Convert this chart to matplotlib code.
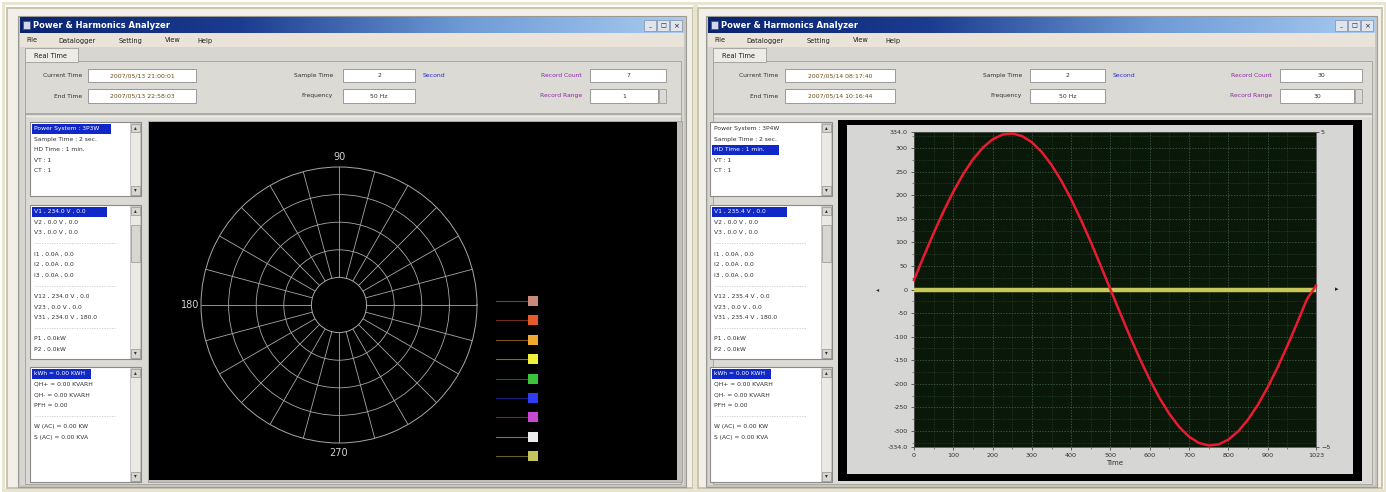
import matplotlib
matplotlib.use("Agg")
import matplotlib.pyplot as plt
import matplotlib.patches as mpatches
import numpy as np

W, H, DPI = 1386, 492, 100

# ---------------- content ----------------
window_title = "Power & Harmonics Analyzer"
menu_items = ["File", "Datalogger", "Setting", "View", "Help"]
tab_name = "Real Time"
info_labels = ["Current Time", "End Time", "Sample Time", "Frequency", "Record Count", "Record Range"]
sample_unit = "Second"

left_times = ["2007/05/13 21:00:01", "2007/05/13 22:58:03"]
right_times = ["2007/05/14 08:17:40", "2007/05/14 10:16:44"]
sample_time = "2"
frequency = "50 Hz"
left_record = ["7", "1"]
right_record = ["30", "30"]

left_system = ["Power System : 3P3W", "Sample Time : 2 sec.", "HD Time : 1 min.", "VT : 1", "CT : 1"]
right_system = ["Power System : 3P4W", "Sample Time : 2 sec.", "HD Time : 1 min.", "VT : 1", "CT : 1"]
left_system_sel, right_system_sel = 0, 2

left_readings = ["V1 , 234.0 V , 0.0", "V2 , 0.0 V , 0.0", "V3 , 0.0 V , 0.0", "-",
                 "I1 , 0.0A , 0.0", "I2 , 0.0A , 0.0", "I3 , 0.0A , 0.0", "-",
                 "V12 , 234.0 V , 0.0", "V23 , 0.0 V , 0.0", "V31 , 234.0 V , 180.0", "-",
                 "P1 , 0.0kW", "P2 , 0.0kW"]
right_readings = ["V1 , 235.4 V , 0.0", "V2 , 0.0 V , 0.0", "V3 , 0.0 V , 0.0", "-",
                  "I1 , 0.0A , 0.0", "I2 , 0.0A , 0.0", "I3 , 0.0A , 0.0", "-",
                  "V12 , 235.4 V , 0.0", "V23 , 0.0 V , 0.0", "V31 , 235.4 V , 180.0", "-",
                  "P1 , 0.0kW", "P2 , 0.0kW"]
energy_lines = ["kWh = 0.00 KWH", "QH+ = 0.00 KVARH", "QH- = 0.00 KVARH", "PFH = 0.00", "-",
                "W (AC) = 0.00 KW", "S (AC) = 0.00 KVA"]

# phasor diagram
phase_names = ["V1", "V2", "V3", "I1", "I2", "I3", "V12", "V23", "V31"]
phase_colors = ["#c98a7a", "#e45a28", "#f0a832", "#f2ee3c", "#3cc23c",
                "#2f3cf0", "#c848d2", "#ececec", "#c4c45a"]
polar_rings = [2, 3, 4]
polar_labels = {90: "90", 180: "180", 270: "270"}

# waveform (V1 samples over one cycle)
wave_time = [0, 25, 50, 75, 100, 125, 150, 175, 200, 225, 250, 275, 300, 325, 350,
             375, 400, 425, 450, 475, 500, 525, 550, 575, 600, 625, 650, 675, 700,
             725, 750, 775, 800, 825, 850, 875, 900, 925, 950, 975, 1000, 1023]
wave_volts = [20.4, 70.8, 119.6, 165.5, 207.5, 244.6, 275.9, 300.7, 318.4, 328.5,
              330.8, 325.4, 312.2, 291.6, 264.1, 230.5, 191.2, 147.5, 100.4, 50.7,
              0.0, -50.7, -100.4, -147.5, -191.2, -230.5, -264.1, -291.6, -312.2,
              -325.4, -330.8, -328.5, -318.4, -300.7, -275.9, -244.6, -207.5,
              -165.5, -119.6, -70.8, -20.4, 8.0]
current_time = [0, 1023]
current_amps = [0.0, 0.0]
y_limit = 334.0
y_ticks = [-300, -250, -200, -150, -100, -50, 0, 50, 100, 150, 200, 250, 300]
x_ticks = [0, 100, 200, 300, 400, 500, 600, 700, 800, 900, 1023]
right_scale = [-5, 5]

# ---------------- figure ----------------
fig = plt.figure(figsize=(W / DPI, H / DPI), dpi=DPI)
fig.patch.set_facecolor("#ffffff")
ui = fig.add_axes([0, 0, 1, 1])
ui.set_xlim(0, W)
ui.set_ylim(H, 0)
ui.axis("off")

FONT = "DejaVu Sans"


def box(x0, y0, x1, y1, fc, ec="none", lw=0.8, z=1):
    ui.add_patch(mpatches.Rectangle((x0, y0), x1 - x0, y1 - y0, facecolor=fc,
                                    edgecolor=ec, linewidth=lw, zorder=z))


def txt(x, y, s, size=4.6, color="#202020", ha="left", weight="normal", z=5):
    ui.text(x, y, s, fontsize=size, color=color, ha=ha, va="center",
            family=FONT, weight=weight, zorder=z)


def field(x0, y0, x1, y1, s, color="#303030"):
    box(x0, y0, x1, y1, "#ffffff", "#9a9a9a", 0.7, 3)
    txt((x0 + x1) / 2, (y0 + y1) / 2, s, 4.4, color, "center")


def scrollbar(x0, y0, x1, y1, thumb=None):
    box(x0, y0, x1, y1, "#ebe9e3", "#b8b8b8", 0.5, 3)
    box(x0 + 0.5, y0 + 0.5, x1 - 0.5, y0 + 9, "#d8d6d0", "#909090", 0.5, 4)
    box(x0 + 0.5, y1 - 9, x1 - 0.5, y1 - 0.5, "#d8d6d0", "#909090", 0.5, 4)
    txt((x0 + x1) / 2, y0 + 5, "\u25b4", 4, "#303030", "center", z=6)
    txt((x0 + x1) / 2, y1 - 5, "\u25be", 4, "#303030", "center", z=6)
    if thumb:
        box(x0 + 0.5, thumb[0], x1 - 0.5, thumb[1], "#d8d6d0", "#909090", 0.5, 4)


def listbox(x0, y0, x1, y1, lines, sel, thumb=None):
    box(x0, y0, x1, y1, "#ffffff", "#8a8a8a", 0.8, 2)
    scrollbar(x1 - 11, y0 + 1, x1 - 1, y1 - 1, thumb)
    for i, s in enumerate(lines):
        y = y0 + 6.5 + i * 10.6
        if s == "-":
            ui.plot([x0 + 4, x1 - 26], [y, y], color="#c8c8c8", lw=0.6,
                    ls=(0, (1.5, 1.5)), zorder=4)
            continue
        if i == sel:
            box(x0 + 2, y - 5, min(x0 + 6 + len(s) * 3.95, x1 - 13), y + 5, "#1028c8", z=4)
            txt(x0 + 4, y, s, 4.3, "#ffffff")
        else:
            txt(x0 + 4, y, s, 4.3, "#303030")


def window(x0, x1, geo, times, record, system, sel_sys, readings):
    y0, y1 = 17, 485
    box(x0 - 2, y0 - 1, x1 + 2, y1 + 2, "#c9c6bf", "#9c9a94", 0.8, 1)
    # title bar gradient
    grad = np.linspace(0, 1, 256)[None, :]
    cmap = matplotlib.colors.LinearSegmentedColormap.from_list(
        "tb", ["#0a2470", "#1c3c90", "#6e9ad6", "#a8cbef"])
    ui.imshow(grad, cmap=cmap, extent=(x0, x1, 33, y0), aspect="auto", zorder=2)
    box(x0 + 3, 21, x0 + 10, 29, "#d0d8e8", "#405080", 0.5, 3)
    txt(x0 + 13, 25.5, window_title, 6.0, "#ffffff", weight="bold")
    for k in range(3):
        bx = x1 - 40 + k * 13
        box(bx, 20, bx + 12, 31, "#e0e4ec", "#8090a8", 0.5, 3)
    txt(x1 - 34, 26, "_", 4.5, "#202020", "center", z=6)
    txt(x1 - 21, 26, "\u25a1", 4.5, "#202020", "center", z=6)
    txt(x1 - 8, 26, "\u00d7", 5, "#202020", "center", z=6)
    # menu bar
    box(x0, 33, x1, 47, "#e9e3da", z=2)
    mx = x0 + 6
    for m in menu_items:
        txt(mx, 40.5, m, 4.8, "#202020")
        mx += len(m) * 4.6 + 14
    # body
    box(x0, 47, x1, y1, "#d8d6d0", z=2)
    box(x0 + 5, 61, x1 - 3, y1 - 1, "#dcdad4", "#a8a6a0", 0.7, 2)
    box(x0 + 5, 48, x0 + 58, 62, "#eeece6", "#a8a6a0", 0.7, 3)
    txt(x0 + 31, 55.5, tab_name, 4.8, "#202020", "center")
    # info fields
    lab_y = [75.5, 96]
    g = geo
    txt(g["t_lab"], lab_y[0], info_labels[0], 4.3, "#303030", "right")
    txt(g["t_lab"], lab_y[1], info_labels[1], 4.3, "#303030", "right")
    field(g["t0"], 69, g["t1"], 82, times[0], "#6a4a10")
    field(g["t0"], 89, g["t1"], 103, times[1], "#6a4a10")
    txt(g["s_lab"], lab_y[0], info_labels[2], 4.3, "#303030", "right")
    txt(g["s_lab"], lab_y[1], info_labels[3], 4.3, "#303030", "right")
    field(g["s0"], 69, g["s1"], 82, sample_time)
    field(g["s0"], 89, g["s1"], 103, frequency)
    txt(g["s1"] + 8, lab_y[0], sample_unit, 4.4, "#2a2ad0")
    txt(g["r_lab"], lab_y[0], info_labels[4], 4.3, "#8a2aa8", "right")
    txt(g["r_lab"], lab_y[1], info_labels[5], 4.3, "#8a2aa8", "right")
    field(g["r0"], 69, g["r1"], 82, record[0])
    field(g["r0"], 89, g["r1"] - 8, 103, record[1])
    box(g["r1"] - 7, 89, g["r1"], 103, "#dcdad4", "#909090", 0.5, 3)
    ui.plot([x0 + 6, x1 - 4], [114, 114], color="#a4a29c", lw=1.2, zorder=3)
    ui.plot([x0 + 6, x1 - 4], [116, 116], color="#f0eee8", lw=0.8, zorder=3)
    # list boxes
    lx0, lx1 = g["l0"], g["l1"]
    listbox(lx0, 122, lx1, 196, system, sel_sys)
    listbox(lx0, 205, lx1, 359, readings, 0, thumb=(225, 262))
    listbox(lx0, 367, lx1, 482, energy_lines, 0)


# outer photo frames
for fx0, fx1 in [(7, 693), (698, 1382)]:
    box(fx0 - 4, 3, fx1 + 3, 490, "none", "#e8e4d0", 2.2, 0)
    box(fx0, 8, fx1, 488, "#f1efe7", "#c9c4ae", 1.4, 0)

left_geo = dict(t_lab=82, t0=88, t1=196, s_lab=333, s0=343, s1=415,
                r_lab=582, r0=590, r1=666, l0=30, l1=141)
right_geo = dict(t_lab=778, t0=785, t1=895, s_lab=1022, s0=1030, s1=1105,
                 r_lab=1272, r0=1280, r1=1362, l0=710, l1=832)

window(20, 684, left_geo, left_times, left_record, left_system, left_system_sel, left_readings)
window(708, 1375, right_geo, right_times, right_record, right_system, right_system_sel, right_readings)

# ---------------- phasor panel ----------------
box(148, 121, 682, 482, "#c0beb8", "#a0a0a0", 0.6, 3)
box(149, 122, 677, 480, "#000000", z=4)

cx, cy, rad = 339, 305, 138
pax = fig.add_axes([(cx - rad) / W, (H - cy - rad) / H, 2 * rad / W, 2 * rad / H],
                   projection="polar")
pax.set_facecolor("none")
pax.set_rorigin(0)
pax.set_rlim(1, 5)
pax.set_rgrids(polar_rings, labels=[""] * len(polar_rings))
angles = list(range(0, 360, 15))
pax.set_thetagrids(angles, labels=[polar_labels.get(a, "") for a in angles],
                   fontsize=7, color="#d4d4d4", family=FONT)
pax.tick_params(axis="x", pad=-3)
pax.grid(True, color="#a8a8a8", lw=0.6)
for sp in pax.spines.values():
    sp.set_color("#a8a8a8")
    sp.set_linewidth(0.7)

for i, (name, col) in enumerate(zip(phase_names, phase_colors)):
    y = 301 + i * 19.4
    ui.plot([496, 528], [y, y], color=col, lw=0.8, alpha=0.5, zorder=6)
    box(528, y - 5, 538, y + 5, col, z=7)

# ---------------- waveform panel ----------------
box(838, 120, 1362, 481, "#000000", z=3)
box(847, 125, 1353, 474, "#d6d6d4", z=4)

wax = fig.add_axes([914 / W, (H - 447) / H, (1316 - 914) / W, (447 - 132) / H])
wax.set_facecolor("#0a180a")
wax.set_xlim(0, 1023)
wax.set_ylim(-y_limit, y_limit)
wax.set_xticks(x_ticks)
wax.set_xticklabels([str(v) for v in x_ticks])
yt = [-y_limit] + y_ticks + [y_limit]
wax.set_yticks(yt)
wax.set_yticklabels([f"{v:.1f}" if abs(v) == y_limit else str(v) for v in yt])
wax.set_xticks(np.arange(50, 1023, 100), minor=True)
wax.set_yticks(np.arange(-325, 334, 50), minor=True)
wax.tick_params(axis="both", which="major", labelsize=4.6, colors="#303030",
                length=2.5, width=0.5, pad=2)
wax.tick_params(axis="both", which="minor", length=1.5, width=0.4, colors="#404040")
wax.grid(True, which="major", color="#4c6a4c", lw=0.5, ls=(0, (2, 2)))
wax.grid(True, which="minor", color="#2e4a2e", lw=0.4, ls=(0, (2, 2)))
for sp in wax.spines.values():
    sp.set_color("#505050")
    sp.set_linewidth(0.6)
wax.set_xlabel("Time", fontsize=5, color="#303030", labelpad=1, family=FONT)
wax.plot(current_time, current_amps, color="#c8c85a", lw=3.2, zorder=3)
wax.plot(wave_time, wave_volts, color="#ea1a30", lw=1.8, zorder=4, clip_on=False)

rax = wax.twinx()
rax.set_ylim(right_scale[0], right_scale[1])
rax.set_yticks(right_scale)
rax.tick_params(axis="y", labelsize=4.6, colors="#303030", length=2.5, width=0.5, pad=1)
for sp in rax.spines.values():
    sp.set_visible(False)

txt(878, 289.5, "\u25c2", 4.5, "#303030", "center", z=6)
txt(1337, 289.5, "\u25b8", 5, "#202020", "center", z=6)

fig.savefig("out.png", dpi=DPI, facecolor=fig.get_facecolor())
